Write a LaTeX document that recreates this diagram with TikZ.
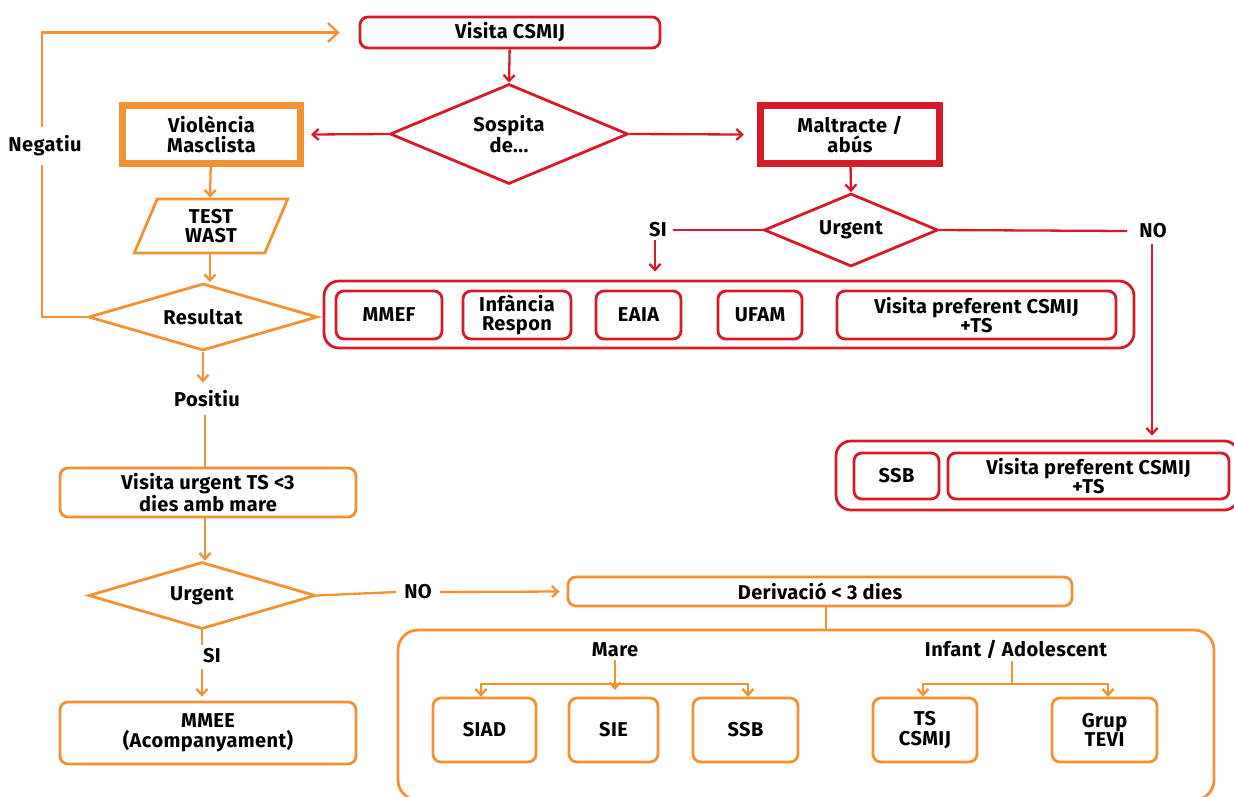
\documentclass[tikz,border=0pt]{standalone}
\usepackage{fontspec}
\setmainfont{Fira Sans}[LetterSpace=2]
\usetikzlibrary{shapes.geometric,arrows.meta}
\definecolor{org}{RGB}{243,146,50}
\definecolor{rd}{RGB}{213,26,40}
\tikzset{
  base/.style={align=center, inner sep=0pt, text=black},
  obox/.style={base, draw=org, line width=2.8pt, rounded corners=8pt},
  rbox/.style={base, draw=rd, line width=2.8pt, rounded corners=8pt},
  ogroup/.style={draw=org, line width=2.8pt, rounded corners=20pt, inner sep=0pt},
  rgroup/.style={draw=rd, line width=2.8pt, rounded corners=15pt, inner sep=0pt},
  odiam/.style={base, shape=diamond, draw=org, line width=2.8pt},
  rdiam/.style={base, shape=diamond, draw=rd, line width=2.8pt},
  lbl/.style={base},
  oline/.style={draw=org, line width=2.3pt},
  rline/.style={draw=rd, line width=2.3pt},
  tip/.style={-{Straight Barb[length=6pt,width=11pt,line width=2.3pt]}},
  bigtip/.style={-{Straight Barb[length=10pt,width=19pt,line width=2.3pt]}},
}
\begin{document}
\begin{tikzpicture}[x=1pt,y=-1pt,font=\bfseries\fontsize{20}{19.5}\selectfont]
\useasboundingbox (0,0) rectangle (1234,796);

% red part
\node[rbox, minimum width=300, minimum height=31] (visita) at (510,32.5) {Visita CSMIJ};
\node[rdiam, minimum width=238, minimum height=100, aspect=2.4] (sosp) at (509,134) {Sospita\\de...};
\node[base, draw=org, line width=7pt, minimum width=178, minimum height=58] (viol) at (211.5,134.5) {Violència\\Masclista};
\node[base, draw=rd, line width=7pt, minimum width=179, minimum height=58] (malt) at (850,134.5) {Maltracte /\\abús};
\node[rdiam, minimum width=174, minimum height=73, aspect=2.4] (urgr) at (851,230) {Urgent};
\node[lbl] (sir) at (658,230) {SI};
\node[lbl] (nor) at (1153,231) {NO};

\node[rgroup, minimum width=810, minimum height=67] (g1) at (729,314.5) {};
\node[rbox, minimum width=106, minimum height=48] (mmef) at (389,315) {MMEF};
\node[rbox, minimum width=108, minimum height=48] (infr) at (517,315) {Infància\\Respon};
\node[rbox, minimum width=85, minimum height=48] (eaia) at (638.5,315) {EAIA};
\node[rbox, minimum width=84, minimum height=48] (ufam) at (760,315) {UFAM};
\node[rbox, minimum width=279, minimum height=48] (vp1) at (976.5,315) {Visita preferent CSMIJ\\+TS};

\node[rgroup, minimum width=403, minimum height=69] (g2) at (1037.5,475.5) {};
\node[rbox, minimum width=85, minimum height=46] (ssb1) at (896.5,476) {SSB};
\node[rbox, minimum width=281, minimum height=46] (vp2) at (1088.5,476) {Visita preferent CSMIJ\\+TS};

\draw[rline,tip] (visita) -- (sosp.north);
\draw[rline,tip] (sosp.west) -- ([xshift=7pt]viol.east);
\draw[rline,tip] (sosp.east) -- ([xshift=-13pt]malt.west);
\draw[rline,tip] (malt) -- (urgr.north);
\draw[rline] (urgr.west) -- ([xshift=6pt]sir.east);
\draw[rline] (urgr.east) -- ([xshift=-12pt]nor.west);
\draw[rline,tip] ([yshift=-3pt]sir.south -| 655,0) -- ([yshift=8pt]g1.north -| 655,0);
\draw[rline,tip] ([yshift=-6pt]nor.south -| 1152,0) -- ([yshift=4pt]g2.north -| 1152,0);

% orange part
\node[base, shape=trapezium, draw=org, line width=2.8pt, trapezium left angle=72, trapezium right angle=108, trapezium stretches=true, minimum width=154, minimum height=54] (test) at (211,226) {TEST\\WAST};
\node[odiam, minimum width=229, minimum height=67, aspect=3] (res) at (203,317) {Resultat};
\node[lbl] (neg) at (45,146) {Negatiu};
\node[lbl] (pos) at (207,399) {Positiu};
\node[obox, minimum width=296, minimum height=49] (vurg) at (208,492.5) {Visita urgent TS <3\\dies amb mare};
\node[odiam, minimum width=227, minimum height=67, aspect=3] (urgo) at (202,595.5) {Urgent};
\node[lbl] (sio) at (212,656) {SI};
\node[lbl] (noo) at (418,592) {NO};
\node[obox, minimum width=296, minimum height=62] (mmee) at (208,733) {MMEE\\(Acompanyament)};
\node[obox, minimum width=504, minimum height=29] (der) at (820,591.5) {Derivació < 3 dies};
\node[ogroup, minimum width=816, minimum height=170] (g3) at (806,715) {};
\node[lbl] (mare) at (615,650) {Mare};
\node[lbl] (inf) at (1016,649) {Infant / Adolescent};
\node[obox, minimum width=103, minimum height=64] (siad) at (484.5,730) {SIAD};
\node[obox, minimum width=89, minimum height=64] (sie) at (613.5,730) {SIE};
\node[obox, minimum width=105, minimum height=64] (ssb2) at (745.5,730) {SSB};
\node[obox, minimum width=104, minimum height=64] (tsc) at (925,730) {TS\\CSMIJ};
\node[obox, minimum width=105, minimum height=64] (tevi) at (1104.5,730) {Grup\\TEVI};
\coordinate (mh) at (615,684);
\coordinate (ih) at (1012,684);

\draw[oline,tip] (viol) -- (test.north -| 210,0);
\draw[oline,tip] (test.south -| 210,0) -- (res.north -| 210,0);
\draw[oline] (res.west) -| ([yshift=-8pt]neg.south -| 42,0);
\draw[oline,bigtip] ([yshift=8pt]neg.north -| 42,0) |- ([xshift=-19pt]visita.west);
\draw[oline,tip] (res.south) -- ([yshift=8pt]pos.north -| res.south);
\draw[oline] ([yshift=-8pt]pos.south -| 205,0) -- (vurg.north -| 205,0);
\draw[oline,tip] (vurg.south -| 205,0) -- (urgo.north -| 205,0);
\draw[oline] (urgo.south) -- ([yshift=4pt]sio.north -| urgo.south);
\draw[oline,tip] ([yshift=-6pt]sio.south -| urgo.south) -- ([yshift=4pt]mmee.north -| urgo.south);
\draw[oline] (urgo.east) -- ([xshift=-8pt]noo.west);
\draw[oline,tip] ([xshift=8pt]noo.east) -- ([xshift=-7pt]der.west);
\draw[oline] (der.south -| 826,0) -- (g3.north -| 826,0);
\draw[oline,tip] ([yshift=-3pt]mare.south) -- ([yshift=-6pt]mh);
\draw[oline,tip] (mh) -| (siad.north -| 481,0);
\draw[oline,tip] (mh) -| (ssb2.north -| 748,0);
\draw[oline] ([yshift=-3pt]inf.south -| ih) -- (ih);
\draw[oline,tip] (ih) -| (tsc.north -| 923,0);
\draw[oline,tip] (ih) -| (tevi.north -| 1108,0);
\end{tikzpicture}
\end{document}
